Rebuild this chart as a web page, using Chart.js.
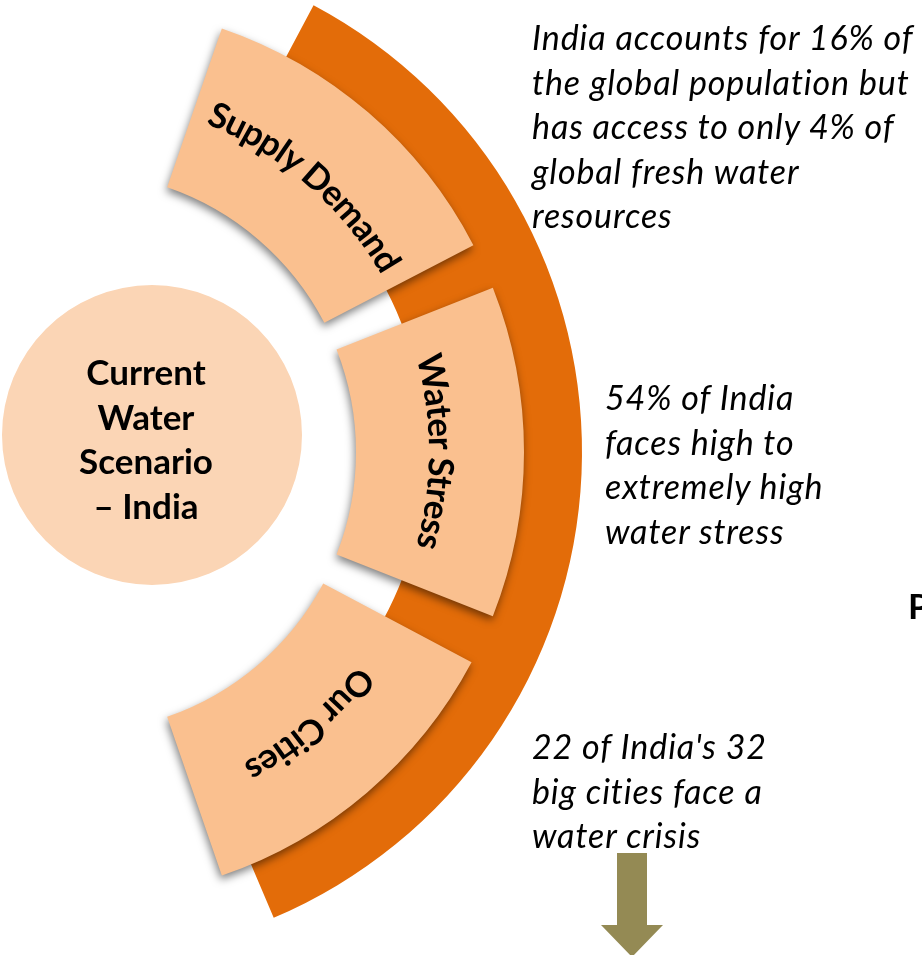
<!DOCTYPE html>
<html>
<head>
<meta charset="utf-8">
<script src="https://cdn.jsdelivr.net/npm/chart.js@4.4.1/dist/chart.umd.min.js"></script>
<style>
  html, body { margin: 0; padding: 0; background: #ffffff; }
  #stage { position: relative; width: 922px; height: 955px; overflow: hidden; background: #ffffff; }
  #stage canvas { position: absolute; }
  .note { position: absolute; font-family: Lato, "Open Sans", sans-serif; font-style: italic;
          font-size: 34px; letter-spacing: 0.9px; line-height: 44.5px; color: #000; white-space: nowrap; }
  .hubText { position: absolute; font-family: Lato, "Open Sans", sans-serif; font-weight: 700;
             font-size: 35px; line-height: 44.7px; color: #000; text-align: center; white-space: nowrap; }
  svg { position: absolute; left: 0; top: 0; overflow: visible; pointer-events: none; }
</style>
</head>
<body>
<div id="stage">
  <canvas id="band" width="1100" height="1100"></canvas>
  <canvas id="blocks" width="1100" height="1100"></canvas>
  <canvas id="hub" width="300" height="300"></canvas>
  <svg id="labels" width="922" height="955"></svg>
  <svg id="arrow" width="922" height="955">
    <polygon points="617,853 647,853 647,925 663,925 632,957 601,925 617,925" fill="#948A54"/>
  </svg>
</div>
<script>
// ---------- data ----------
const categories   = ["Supply Demand", "Water Stress", "Our Cities"];
const blockSpanDeg = [43.5, 43, 43];      // angular width of each block
const blockGapDeg  = [6, 6.5];            // white gaps between blocks
const blockStartDeg = 19;                 // first block starts here (clockwise from 12 o'clock)
const bandSpanDeg  = [129];               // orange arc band angular width
const bandStartDeg = 28;                  // band starts here (clockwise from 12 o'clock)
const hubTitle     = ["Current", "Water", "Scenario", "\u2013 India"];
const notes = [
  ["India accounts for 16% of", "the global population but", "has access to only 4% of", "global fresh water", "resources"],
  ["54% of India", "faces high to", "extremely high", "water stress"],
  ["22 of India's 32", "big cities face a", "water crisis"]
];
const cutText = "P";

// ---------- layout / style ----------
const ORANGE = "#E36C09", BLOCK = "#FAC08F", HUB = "#FBD5B5";
const CX = 76, CY = 452;          // common centre of the arcs (page px)
const S = 1100;                    // canvas size for the arc charts
const BAND_R = 506, BAND_IN = 350;
const BLOCK_R = 448, BLOCK_IN = 280;
const HUB_CX = 152, HUB_CY = 435, HUB_R = 150;

const stage = document.getElementById('stage');
const bandCv = document.getElementById('band');
const blockCv = document.getElementById('blocks');
const hubCv = document.getElementById('hub');
[bandCv, blockCv].forEach(c => { c.style.left = (CX - S / 2) + 'px'; c.style.top = (CY - S / 2) + 'px'; });
hubCv.style.left = (HUB_CX - HUB_R) + 'px'; hubCv.style.top = (HUB_CY - HUB_R) + 'px';

const common = {
  responsive: false, animation: false, events: [],
  layout: { padding: 0 },
  plugins: { legend: { display: false }, tooltip: { enabled: false } }
};
const CLEAR = 'rgba(0,0,0,0)';

// Orange band
const bandData = [bandSpanDeg[0], 360 - bandSpanDeg[0]];
new Chart(bandCv, {
  type: 'doughnut',
  data: { labels: ['band', ''], datasets: [{ data: bandData, backgroundColor: [ORANGE, CLEAR], borderWidth: 0 }] },
  options: Object.assign({}, common, { rotation: bandStartDeg, radius: BAND_R, cutout: (BAND_IN / BAND_R * 100) + '%' })
});

// Blocks
const blockData = [], blockColors = [], blockLabels = [];
categories.forEach((c, i) => {
  blockData.push(blockSpanDeg[i]); blockColors.push(BLOCK); blockLabels.push(c);
  if (i < blockGapDeg.length) { blockData.push(blockGapDeg[i]); blockColors.push(CLEAR); blockLabels.push(''); }
});
const used = blockData.reduce((a, b) => a + b, 0);
blockData.push(360 - used); blockColors.push(CLEAR); blockLabels.push('');

const shadowPlugin = {
  id: 'blockShadow',
  beforeDatasetsDraw(chart) {
    const c = chart.ctx; c.save();
    c.shadowColor = 'rgba(0,0,0,0.5)'; c.shadowBlur = 8; c.shadowOffsetX = -1; c.shadowOffsetY = 4;
  },
  afterDatasetsDraw(chart) { chart.ctx.restore(); }
};
const blockChart = new Chart(blockCv, {
  type: 'doughnut',
  data: { labels: blockLabels, datasets: [{ data: blockData, backgroundColor: blockColors, borderWidth: 0 }] },
  options: Object.assign({}, common, { rotation: blockStartDeg, radius: BLOCK_R, cutout: (BLOCK_IN / BLOCK_R * 100) + '%' }),
  plugins: [shadowPlugin]
});

// Hub circle
new Chart(hubCv, {
  type: 'pie',
  data: { labels: [hubTitle.join(' ')], datasets: [{ data: [1], backgroundColor: [HUB], borderWidth: 0 }] },
  options: common
});

// Curved block labels (SVG textPath following each block arc)
const NS = 'http://www.w3.org/2000/svg';
const svg = document.getElementById('labels');
const defs = document.createElementNS(NS, 'defs'); svg.appendChild(defs);
const offX = CX - S / 2, offY = CY - S / 2;
const meta = blockChart.getDatasetMeta(0).data;
let k = 0;
blockLabels.forEach((lab, idx) => {
  if (!lab) return;
  const a = meta[idx].getProps(['x', 'y', 'startAngle', 'endAngle', 'innerRadius', 'outerRadius'], true);
  const cx = offX + a.x, cy = offY + a.y;
  const r = (a.innerRadius + a.outerRadius) / 2 + 3;
  const a0 = a.startAngle - 0.3, a1 = a.endAngle + 0.3;
  const p = document.createElementNS(NS, 'path');
  const d = 'M ' + (cx + r * Math.cos(a0)) + ' ' + (cy + r * Math.sin(a0)) +
            ' A ' + r + ' ' + r + ' 0 0 1 ' + (cx + r * Math.cos(a1)) + ' ' + (cy + r * Math.sin(a1));
  p.setAttribute('d', d); p.setAttribute('id', 'arcPath' + k); p.setAttribute('fill', 'none');
  defs.appendChild(p);
  const t = document.createElementNS(NS, 'text');
  t.setAttribute('font-family', 'Lato, "Open Sans", sans-serif');
  t.setAttribute('font-weight', '700'); t.setAttribute('font-size', '35');
  t.setAttribute('fill', '#000'); t.setAttribute('dominant-baseline', 'central');
  const tp = document.createElementNS(NS, 'textPath');
  tp.setAttribute('href', '#arcPath' + k);
  tp.setAttributeNS('http://www.w3.org/1999/xlink', 'xlink:href', '#arcPath' + k);
  tp.setAttribute('startOffset', '50%'); tp.setAttribute('text-anchor', 'middle');
  tp.textContent = lab;
  t.appendChild(tp); svg.appendChild(t);
  k++;
});

// Hub title
const hubDiv = document.createElement('div');
hubDiv.className = 'hubText';
hubDiv.style.left = (146 - 150) + 'px'; hubDiv.style.width = '300px'; hubDiv.style.top = '349px';
hubDiv.innerHTML = hubTitle.join('<br>');
stage.appendChild(hubDiv);

// Notes
const notePos = [[532, 15], [605, 375], [532, 724]];
notes.forEach((lines, i) => {
  const d = document.createElement('div');
  d.className = 'note';
  d.style.left = notePos[i][0] + 'px'; d.style.top = notePos[i][1] + 'px';
  d.innerHTML = lines.join('<br>');
  stage.appendChild(d);
});
const cut = document.createElement('div');
cut.className = 'hubText'; cut.style.left = '908px'; cut.style.top = '583px'; cut.style.textAlign = 'left';
cut.textContent = cutText;
stage.appendChild(cut);
</script>
</body>
</html>
